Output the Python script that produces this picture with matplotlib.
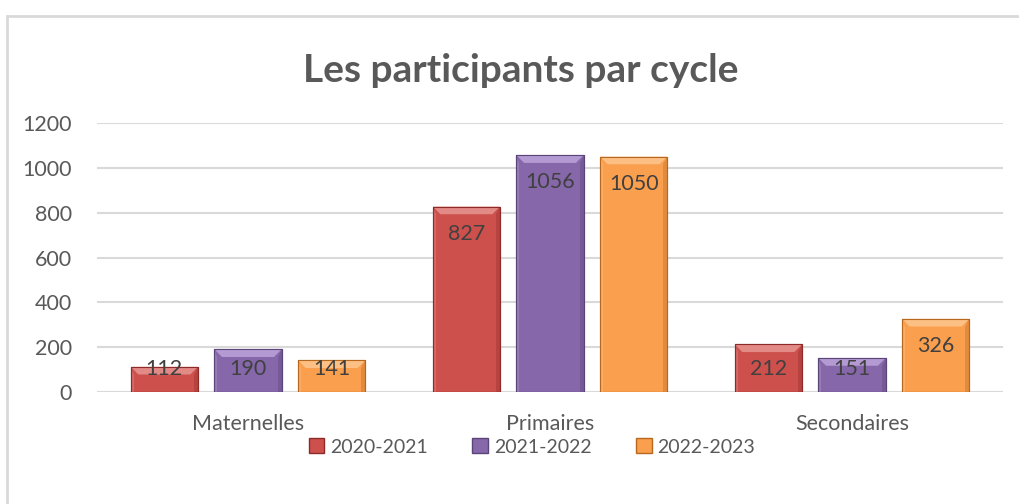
import matplotlib
matplotlib.use('Agg')
import matplotlib.pyplot as plt
from matplotlib.patches import Rectangle, Polygon
import numpy as np

plt.rcParams['font.family'] = ['Lato', 'DejaVu Sans']

# donnees
cycles = ['Maternelles', 'Primaires', 'Secondaires']
annees = ['2020-2021', '2021-2022', '2022-2023']
v2021 = [112, 827, 212]
v2122 = [190, 1056, 151]
v2223 = [141, 1050, 326]
series = [v2021, v2122, v2223]

faces = ['#CD504D', '#8567AA', '#F99F4E']
tops = ['#E28A86', '#B39AD2', '#FCC085']
edges = ['#8E2B29', '#5A4478', '#B8681E']
gris = '#595959'

fig = plt.figure(figsize=(10.19, 5.04), dpi=100)
ax = fig.add_axes([97/1019, (504-392)/504, (1003-97)/1019, (392-123)/504])

x = np.arange(len(cycles))
w = 0.222
pas = 0.277
bx = 0.025   # taille du biseau en x
by = 34      # taille du biseau en y

for i, vals in enumerate(series):
    pos = x + (i - 1) * pas
    for p, v in zip(pos, vals):
        l, r = p - w/2, p + w/2
        ax.add_patch(Rectangle((l, 0), w, v, facecolor=faces[i], edgecolor=edges[i], lw=0.8, zorder=3))
        b = min(by, v * 0.45)
        # biseau haut
        ax.add_patch(Polygon([(l, v), (r, v), (r - bx, v - b), (l + bx, v - b)],
                             closed=True, facecolor=tops[i], edgecolor='none', zorder=4))
        # cotes
        ax.add_patch(Polygon([(r, v), (r, 0), (r - bx*0.5, 0), (r - bx*0.5, v - b)],
                             closed=True, facecolor=edges[i], alpha=0.35, edgecolor='none', zorder=4))
        ax.add_patch(Polygon([(l, v), (l, 0), (l + bx*0.4, 0), (l + bx*0.4, v - b)],
                             closed=True, facecolor='white', alpha=0.15, edgecolor='none', zorder=4))
        ax.add_patch(Rectangle((l, 0), w, v, facecolor='none', edgecolor=edges[i], lw=0.8, zorder=5))
        ly = max(v - 120, 103)
        ax.text(p, ly, str(v), ha='center', va='center', fontsize=15.5, color='#404040', zorder=6)

ax.set_xlim(-0.5, 2.5)
ax.set_ylim(0, 1200)
ax.set_yticks(range(0, 1201, 200))
ax.set_xticks(x)
ax.set_xticklabels(cycles)
ax.yaxis.grid(True, color='#D9D9D9', lw=1.5, zorder=0)
ax.set_axisbelow(True)
for s in ax.spines.values():
    s.set_visible(False)
ax.tick_params(length=0, labelsize=15.5, labelcolor=gris)
ax.tick_params(axis='x', pad=16)
ax.tick_params(axis='y', pad=18)

fig.text(0.511, (504-70)/504, 'Les participants par cycle', ha='center', va='center',
         fontsize=28, fontweight='bold', color=gris)

handles = [Rectangle((0, 0), 1, 1, facecolor=faces[i], edgecolor=edges[i]) for i in range(3)]
fig.legend(handles, annees, loc='center', bbox_to_anchor=(0.522, (504-447)/504), ncol=3,
           frameon=False, fontsize=14, labelcolor=gris, handlelength=0.8, handleheight=0.8,
           handletextpad=0.3, columnspacing=2.3)

# cadre
fig.add_artist(Rectangle((7/1019, -0.1), 1.1, (504-16)/504 + 0.1, transform=fig.transFigure,
                         fill=False, edgecolor='#D9D9D9', lw=2))

fig.savefig('out.png', dpi=100)
